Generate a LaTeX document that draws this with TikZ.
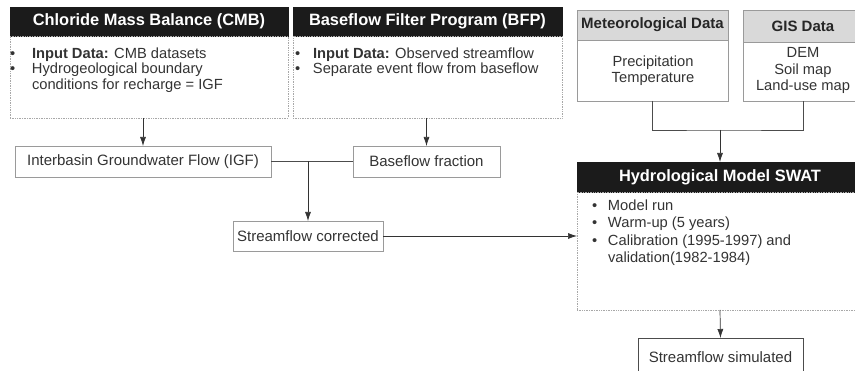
\documentclass[tikz,border=0pt]{standalone}
\usepackage{fontspec}
\setmainfont{Liberation Sans}
\usetikzlibrary{arrows.meta}
\definecolor{boxline}{HTML}{9A9A9A}
\definecolor{dotline}{HTML}{A8A8A8}
\definecolor{headfill}{HTML}{1B1B1B}
\definecolor{greyhead}{HTML}{D9D9D9}
\definecolor{txtcol}{HTML}{333333}
\newcommand{\bul}[1]{\makebox[#1][l]{\textbullet}}
\begin{document}
\begin{tikzpicture}[x=1pt,y=-1pt,
            every node/.style={inner sep=0pt,outer sep=0pt,text=txtcol},
            header/.style={fill=headfill,draw=headfill,text=white,
              font=\fontsize{16.4}{18}\selectfont\bfseries,anchor=north west},
            greyheader/.style={fill=greyhead,draw=boxline,line width=0.8pt,
              font=\fontsize{15}{17}\selectfont\bfseries,anchor=north west,text=black!85},
            dotbox/.style={draw=dotline,densely dotted,line width=0.7pt,anchor=north west},
            plainbox/.style={draw=boxline,line width=0.8pt,anchor=north west},
            txt/.style={font=\fontsize{14.7}{15.6}\selectfont,align=left,anchor=north west},
            ctxt/.style={font=\fontsize{14.7}{16.4}\selectfont,align=center},
            arr/.style={draw=black!80,line width=0.7pt,-{Latex[length=9pt,width=6pt]}},
            conn/.style={draw=black!70,line width=0.7pt}]
            \useasboundingbox (0,0) rectangle (855,371);
            % top left: chloride mass balance
            \node[header,minimum width=278,minimum height=29] (cmbh) at (10,7) {Chloride Mass Balance (CMB)};
            \node[dotbox,minimum width=278,minimum height=82] (cmbb) at (10,36) {};
            \node[txt] (cmbt) at (10,47.5) {\bul{22pt}\textbf{Input Data:} CMB datasets\\
              \bul{22pt}Hydrogeological boundary\\
              \hspace*{22pt}conditions for recharge = IGF};
            % top middle: baseflow filter program
            \node[header,minimum width=269,minimum height=29] (bfph) at (293,7) {Baseflow Filter Program (BFP)};
            \node[dotbox,minimum width=269,minimum height=82] (bfpb) at (293,36) {};
            \node[txt] (bfpt) at (295,47.5) {\bul{18pt}\textbf{Input Data:} Observed streamflow\\
              \bul{18pt}Separate event flow from baseflow};
            % top right: input data boxes
            \node[greyheader,minimum width=151,minimum height=30] (meth) at (577,10) {Meteorological Data};
            \node[plainbox,minimum width=151,minimum height=61] (metb) at (577,40) {};
            \node[ctxt] (mett) at (653,70.5) {Precipitation\\Temperature};
            \node[greyheader,minimum width=120,minimum height=32] (gish) at (743,10) {GIS Data};
            \node[plainbox,minimum width=120,minimum height=59] (gisb) at (743,42) {};
            \node[ctxt] (gist) at (803,70.5) {DEM\\Soil map\\Land-use map};
            \coordinate (join) at (720,130);
            % middle row
            \node[plainbox,minimum width=256,minimum height=31,font=\fontsize{15}{17}\selectfont] (igf) at (15,146) {Interbasin Groundwater Flow (IGF)};
            \node[plainbox,minimum width=147,minimum height=31,font=\fontsize{15}{17}\selectfont] (bff) at (353,146) {Baseflow fraction};
            \node[plainbox,minimum width=150,minimum height=30,font=\fontsize{15}{17}\selectfont] (sfc) at (233,221) {Streamflow corrected};
            % swat model
            \node[header,minimum width=286,minimum height=30] (swath) at (577,162) {Hydrological Model SWAT};
            \node[dotbox,minimum width=286,minimum height=118] (swatb) at (577,192) {};
            \node[txt,font=\fontsize{14.7}{17.5}\selectfont] (swatt) at (592,199.5) {\bul{16pt}Model run\\
              \bul{16pt}Warm-up (5 years)\\
              \bul{16pt}Calibration (1995-1997) and\\
              \hspace*{16pt}validation(1982-1984)};
            \node[draw=black!70,line width=0.8pt,anchor=north west,minimum width=165,minimum height=38,
              font=\fontsize{15}{17}\selectfont] (sim) at (638,338) {Streamflow simulated};
            % connectors
            \draw[arr] (igf.north |- cmbb.south) -- (igf.north);
            \draw[arr] (bff.north |- bfpb.south) -- (bff.north);
            \draw[conn] (igf.east) -- (bff.west);
            \draw[arr] (sfc.north |- igf.east) -- (sfc.north);
            \draw[arr] (sfc.east) -- (sfc.east -| swatb.west);
            \draw[conn] (metb.south) |- (join) -| (gisb.south -| gist.center);
            \draw[arr] (join) -- (join |- swath.north);
            \draw[arr] (swatb.south) -- (sim.north);
\end{tikzpicture}
\end{document}
